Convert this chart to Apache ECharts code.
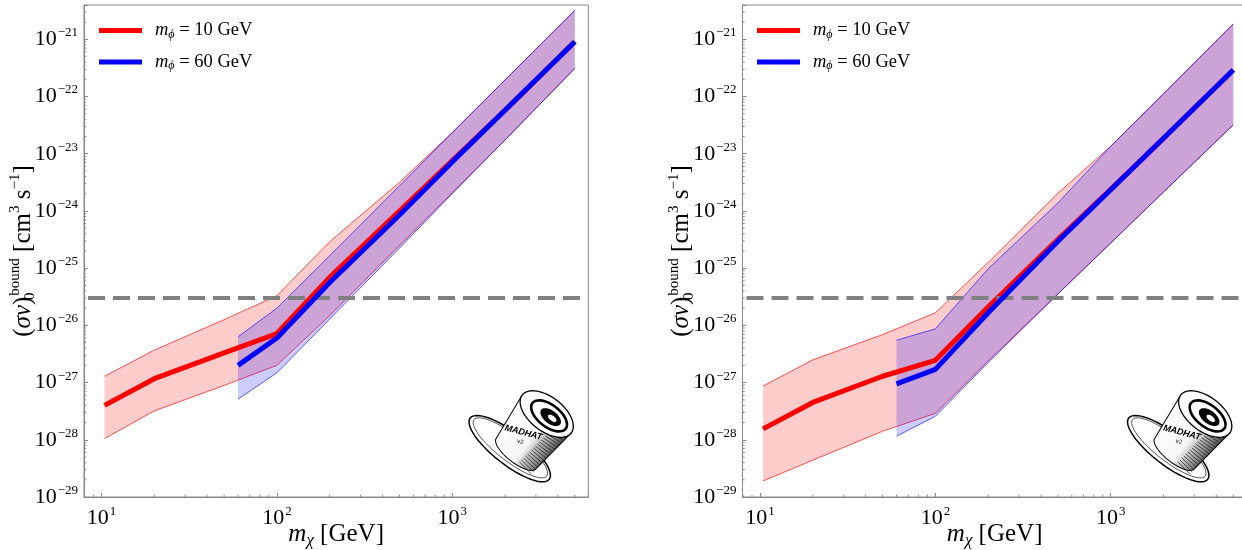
<!DOCTYPE html>
<html><head><meta charset="utf-8">
<script src="https://cdn.jsdelivr.net/npm/echarts@6/dist/echarts.min.js"></script>
<style>html,body{margin:0;padding:0;background:#fff}#c{width:1242px;height:550px}</style>
</head><body><div id="c"></div>
<script>
// ---------- data ----------
const X_MIN = Math.pow(10, 0.9), X_MAX = Math.pow(10, 3.776);
const Y_MIN = 1e-29, Y_MAX = Math.pow(10, -20.4);
const RELIC = 3e-26;
const LEGEND_NAMES = ['mphi10', 'mphi60'];
const LEGEND_LABELS = {mphi10: '10 GeV', mphi60: '60 GeV'};

// left panel
const L_red_x   = [10.4, 20, 50, 100, 200, 500, 1000, 2000, 5000];
const L_red_mid = [4.0e-28, 1.17e-27, 3.3e-27, 7.2e-27, 6.9e-26, 1.0e-24, 7.6e-24, 5.75e-23, 9.1e-22];
const L_red_hi  = [1.29e-27, 3.7e-27, 1.26e-26, 3.3e-26, 2.9e-25, 3.16e-24, 2.34e-23, 1.95e-22, 3.2e-21];
const L_red_lo  = [1.05e-28, 3.2e-28, 8.9e-28, 2.0e-27, 1.48e-26, 2.5e-25, 2.09e-24, 1.74e-23, 3.1e-22];
const L_blue_x   = [60, 100, 200, 500, 1000, 2000, 5000];
const L_blue_mid = [2.0e-27, 6.0e-27, 5.6e-26, 8.5e-25, 7.2e-24, 5.75e-23, 9.1e-22];
const L_blue_hi  = [6.3e-27, 2.0e-26, 1.66e-25, 2.75e-24, 2.34e-23, 1.95e-22, 3.2e-21];
const L_blue_lo  = [5.1e-28, 1.48e-27, 1.29e-26, 2.24e-25, 2.0e-24, 1.74e-23, 3.1e-22];

// right panel
const R_red_x   = [10.4, 20, 50, 100, 200, 500, 1000, 2000, 5000];
const R_red_mid = [1.55e-28, 4.5e-28, 1.29e-27, 2.45e-27, 2.1e-26, 3.2e-25, 2.4e-24, 1.86e-23, 2.9e-22];
const R_red_hi  = [8.7e-28, 2.5e-27, 6.9e-27, 1.66e-26, 1.26e-25, 2.04e-24, 1.35e-23, 1.12e-22, 1.86e-21];
const R_red_lo  = [1.9e-29, 4.4e-29, 1.41e-28, 2.9e-28, 2.4e-27, 3.55e-26, 2.75e-25, 2.14e-24, 3.2e-23];
const R_blue_x   = [60, 100, 200, 500, 1000, 2000, 5000];
const R_blue_mid = [9.5e-28, 1.7e-27, 1.66e-26, 2.95e-25, 2.34e-24, 1.86e-23, 2.9e-22];
const R_blue_hi  = [5.5e-27, 8.7e-27, 9.8e-26, 1.38e-24, 1.35e-23, 1.12e-22, 1.86e-21];
const R_blue_lo  = [1.15e-28, 2.57e-28, 2.24e-27, 3.55e-26, 2.75e-25, 2.14e-24, 3.2e-23];

// minor tick positions (2..9 times each power of ten, inside the axis range)
const MINOR_MULT = [2, 3, 4, 5, 6, 7, 8, 9];
const X_DECADES = [1, 10, 100, 1000];
const Y_DECADES = [1e-29, 1e-28, 1e-27, 1e-26, 1e-25, 1e-24, 1e-23, 1e-22, 1e-21];

// ---------- helpers (axes are log10 scales) ----------
const L = Math.log10;
const SERIF = 'Liberation Serif';
const minorX = [], minorY = [];
X_DECADES.forEach(d => MINOR_MULT.forEach(m => { const v = d * m; if (v > X_MIN && v < X_MAX) minorX.push(L(v)); }));
Y_DECADES.forEach(d => MINOR_MULT.forEach(m => { const v = d * m; if (v > Y_MIN && v < Y_MAX) minorY.push(L(v)); }));

function expLabel(e) {
  const r = Math.round(e);
  if (Math.abs(e - r) > 1e-6) return '';
  return '{b|10}{e|' + (r < 0 ? '\u2212' + (-r) : r) + '}';
}
const labelRich = {
  b: {fontFamily: SERIF, fontSize: 22, lineHeight: 26, color: '#000'},
  e: {fontFamily: SERIF, fontSize: 13, lineHeight: 14, verticalAlign: 'top', color: '#000', padding: [0, 0, 0, 1]}
};
const nameRich = {
  p: {fontFamily: SERIF, fontSize: 25, lineHeight: 30, color: '#000'},
  i: {fontFamily: SERIF, fontSize: 25, lineHeight: 30, fontStyle: 'italic', color: '#000'},
  sub: {fontFamily: SERIF, fontSize: 15, lineHeight: 15, verticalAlign: 'bottom', color: '#000', width: 1},
  subi: {fontFamily: SERIF, fontSize: 17, lineHeight: 17, verticalAlign: 'bottom', fontStyle: 'italic', color: '#000'},
  sup: {fontFamily: SERIF, fontSize: 15, lineHeight: 15, verticalAlign: 'top', color: '#000'}
};

function xAxis(idx) {
  return {
    type: 'value', gridIndex: idx, min: L(X_MIN), max: L(X_MAX), splitNumber: 3,
    name: '{i|m}{subi|\u03c7}{p| [GeV]}', nameLocation: 'middle', nameGap: 22, nameMoveOverlap: false,
    nameTextStyle: {rich: nameRich},
    axisLine: {show: true, onZero: false, lineStyle: {color: '#888', width: 1}},
    axisTick: {show: true, inside: true, length: 4, lineStyle: {color: '#888'}},
    axisLabel: {formatter: expLabel, margin: 8, rich: labelRich, showMinLabel: true, showMaxLabel: true, hideOverlap: false},
    splitLine: {show: false}, minorTick: {show: false}
  };
}
function yAxis(idx) {
  return {
    type: 'value', gridIndex: idx, min: L(Y_MIN), max: L(Y_MAX), splitNumber: 8,
    name: '{p|(}{i|\u03c3v}{p|)}{sub|0}{sup|bound}{p| [cm}{sup|3}{p| s}{sup|\u22121}{p|]}',
    nameLocation: 'middle', nameGap: 46, nameRotate: 90, nameMoveOverlap: false,
    nameTextStyle: {rich: nameRich},
    axisLine: {show: true, onZero: false, lineStyle: {color: '#888', width: 1}},
    axisTick: {show: true, inside: true, length: 4, lineStyle: {color: '#888'}},
    axisLabel: {formatter: expLabel, margin: 6, rich: labelRich, showMinLabel: true, showMaxLabel: true, hideOverlap: false},
    splitLine: {show: false}, minorTick: {show: false}
  };
}

function band(idx, xs, lo, hi, fill, stroke, z) {
  return {
    type: 'custom', xAxisIndex: idx, yAxisIndex: idx, z: z, silent: true,
    data: xs.map((x, i) => [L(x), L(hi[i]), L(lo[i])]),
    encode: {x: 0, y: [1, 2]},
    renderItem: function (params, api) {
      if (params.dataIndex !== 0) return null;
      const up = xs.map((x, i) => api.coord([L(x), L(hi[i])]));
      const dn = xs.map((x, i) => api.coord([L(x), L(lo[i])]));
      return {type: 'group', children: [
        {type: 'polygon', shape: {points: up.concat(dn.slice().reverse())}, style: {fill: fill, stroke: null}},
        {type: 'polyline', shape: {points: up}, style: {fill: null, stroke: stroke, lineWidth: 1}},
        {type: 'polyline', shape: {points: dn}, style: {fill: null, stroke: stroke, lineWidth: 1}}
      ]};
    }
  };
}
function line(idx, name, xs, ys, color, z) {
  return {
    type: 'line', name: name, xAxisIndex: idx, yAxisIndex: idx, z: z,
    data: xs.map((x, i) => [L(x), L(ys[i])]), showSymbol: false, symbol: 'none',
    color: color, itemStyle: {color: color},
    lineStyle: {color: color, width: 5}, silent: true
  };
}
function relic(idx) {
  return {
    type: 'line', xAxisIndex: idx, yAxisIndex: idx, z: 3, data: [], silent: true,
    markLine: {
      silent: true, symbol: ['none', 'none'], label: {show: false},
      lineStyle: {color: '#808080', width: 4, type: [17, 8], dashOffset: 21},
      emphasis: {disabled: true},
      data: [{yAxis: L(RELIC)}]
    }
  };
}
function minorTicks(idx) {
  return [
    {type: 'custom', xAxisIndex: idx, yAxisIndex: idx, z: 6, silent: true,
     data: minorX.map(v => [v, L(Y_MIN)]),
     renderItem: function (p, api) {
       const pt = api.coord([api.value(0), api.value(1)]);
       return {type: 'line', shape: {x1: pt[0], y1: pt[1], x2: pt[0], y2: pt[1] - 2.2}, style: {stroke: '#888', lineWidth: 1}};
     }},
    {type: 'custom', xAxisIndex: idx, yAxisIndex: idx, z: 6, silent: true,
     data: minorY.map(v => [L(X_MIN), v]),
     renderItem: function (p, api) {
       const pt = api.coord([api.value(0), api.value(1)]);
       return {type: 'line', shape: {x1: pt[0], y1: pt[1], x2: pt[0] + 2.2, y2: pt[1]}, style: {stroke: '#888', lineWidth: 1}};
     }}
  ];
}

// ---------- MADHAT logo (decoration) ----------
function ellipsePts(cx, cy, rx, ry) {
  const pts = [];
  for (let i = 0; i < 64; i++) { const a = i / 64 * 2 * Math.PI; pts.push([cx + rx * Math.cos(a), cy + ry * Math.sin(a)]); }
  return pts;
}
function halfEllipse(cx, cy, rx, ry) {
  const pts = [];
  for (let i = 0; i <= 32; i++) { const a = i / 32 * Math.PI; pts.push([cx + rx * Math.cos(a), cy + ry * Math.sin(a)]); }
  return pts;
}
function hat(x, y) {
  const hatch = [];
  for (let k = 0; k < 18; k++) {
    const yy = -20 + k * 2.8;
    const t = (yy + 24) / 50;
    const edge = 31 - t * 6;
    hatch.push({type: 'line', shape: {x1: edge - 17, y1: yy + 3, x2: edge, y2: yy + 5 * t}, style: {stroke: '#111', lineWidth: 0.6}});
  }
  return {type: 'group', x: x, y: y, rotation: -0.66, silent: true, children: [
    {type: 'polygon', shape: {points: ellipsePts(-8, 26, 50, 16)}, style: {fill: '#fff', stroke: '#000', lineWidth: 1.5}},
    {type: 'polygon', shape: {points: ellipsePts(-8, 25, 46, 13)}, style: {fill: null, stroke: '#222', lineWidth: 0.7}},
    {type: 'polygon', shape: {points: [[31, -24], [-31, -24]].concat(halfEllipse(0, 26, 25, 9).reverse())},
     style: {fill: {type: 'linear', x: 0, y: 0, x2: 1, y2: 0, colorStops: [
       {offset: 0, color: '#fff'}, {offset: 0.55, color: '#f6f6f6'}, {offset: 0.8, color: '#999'}, {offset: 1, color: '#444'}]},
       stroke: '#000', lineWidth: 1}}
  ].concat(hatch).concat([
    {type: 'polygon', shape: {points: ellipsePts(0, -24, 31, 17)}, style: {fill: '#fff', stroke: '#000', lineWidth: 1.3}},
    {type: 'polygon', shape: {points: ellipsePts(3, -24, 21, 11)}, style: {fill: null, stroke: '#000', lineWidth: 2.6}},
    {type: 'polygon', shape: {points: ellipsePts(5, -24, 12, 6.5)}, style: {fill: '#000'}},
    {type: 'polygon', shape: {points: ellipsePts(7, -24, 5, 2.5)}, style: {fill: '#fff'}},
    {type: 'text', x: -7, y: 5, rotation: 0.4, style: {text: 'MADHAT', font: 'italic bold 9px "Liberation Sans"', fill: '#000', align: 'center', verticalAlign: 'middle'}},
    {type: 'text', x: -4, y: 14, rotation: 0.4, style: {text: 'v2', font: '6px "Liberation Sans"', fill: '#000', align: 'center', verticalAlign: 'middle'}}
  ])};
}

function legend(left) {
  return {
    orient: 'vertical', left: left, top: 21, padding: 0,
    itemWidth: 43, itemHeight: 5, itemGap: 12, icon: 'rect',
    data: LEGEND_NAMES, selectedMode: false,
    formatter: n => '{i|m}{s|\u03d5}{p| = ' + LEGEND_LABELS[n] + '}',
    textStyle: {rich: {
      i: {fontFamily: SERIF, fontSize: 18.5, fontStyle: 'italic', lineHeight: 20, color: '#000', padding: [0, 0, 0, 8]},
      s: {fontFamily: SERIF, fontSize: 12, fontStyle: 'italic', lineHeight: 12, verticalAlign: 'bottom', color: '#000'},
      p: {fontFamily: SERIF, fontSize: 18.5, lineHeight: 20, color: '#000'}
    }}
  };
}

// ---------- chart ----------
const chart = echarts.init(document.getElementById('c'), null, {renderer: 'canvas'});
const gridBase = {top: 5, width: 504.3, height: 492, show: true, borderColor: '#888', borderWidth: 1,
  backgroundColor: 'transparent', containLabel: false, outerBoundsMode: 'none'};
chart.setOption({
  animation: false,
  backgroundColor: '#fff',
  grid: [Object.assign({left: 84}, gridBase), Object.assign({left: 742.5}, gridBase)],
  xAxis: [xAxis(0), xAxis(1)],
  yAxis: [yAxis(0), yAxis(1)],
  legend: [legend(99), legend(757)],
  series: [
    band(0, L_red_x, L_red_lo, L_red_hi, 'rgba(255,0,0,0.2)', 'rgba(255,0,0,0.65)', 1),
    band(0, L_blue_x, L_blue_lo, L_blue_hi, 'rgba(0,0,255,0.2)', 'rgba(0,0,255,0.6)', 2),
    relic(0),
    line(0, 'mphi10', L_red_x, L_red_mid, '#ff0000', 4),
    line(0, 'mphi60', L_blue_x, L_blue_mid, '#0000ff', 5),
    band(1, R_red_x, R_red_lo, R_red_hi, 'rgba(255,0,0,0.2)', 'rgba(255,0,0,0.65)', 1),
    band(1, R_blue_x, R_blue_lo, R_blue_hi, 'rgba(0,0,255,0.2)', 'rgba(0,0,255,0.6)', 2),
    relic(1),
    line(1, 'mphi10', R_red_x, R_red_mid, '#ff0000', 4),
    line(1, 'mphi60', R_blue_x, R_blue_mid, '#0000ff', 5)
  ].concat(minorTicks(0)).concat(minorTicks(1)),
  graphic: [hat(532, 433), hat(1190.5, 433)]
});
</script></body></html>
